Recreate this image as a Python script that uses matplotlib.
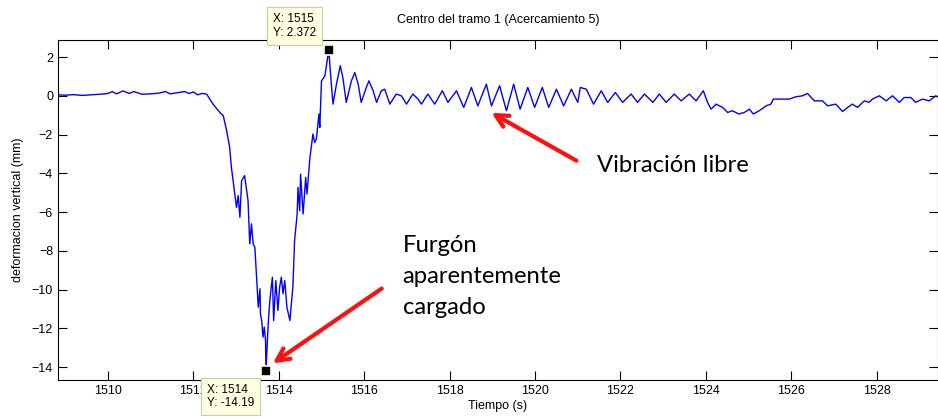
import matplotlib
matplotlib.use("Agg")
import matplotlib.pyplot as plt

# Datos (tiempo en s, deformacion en mm)
t_plano = [1508.83, 1509.0, 1509.2, 1509.4, 1509.6, 1509.8, 1510.0, 1510.1, 1510.2,
           1510.35, 1510.5, 1510.6, 1510.8, 1511.0, 1511.2, 1511.35, 1511.45, 1511.6,
           1511.8, 1511.9, 1512.0, 1512.1, 1512.2]
d_plano = [0.05, 0.03, 0.06, 0.02, 0.05, 0.08, 0.12, 0.22, 0.10,
           0.25, 0.12, 0.22, 0.08, 0.10, 0.14, 0.22, 0.10, 0.15,
           0.22, 0.12, 0.20, 0.05, 0.12]

t_paso = [1512.31, 1512.46, 1512.62, 1512.70, 1512.78, 1512.85, 1512.89, 1512.97,
          1513.01, 1513.05, 1513.09, 1513.13, 1513.20, 1513.28, 1513.32, 1513.36,
          1513.40, 1513.44, 1513.48, 1513.52, 1513.56, 1513.57, 1513.60, 1513.63,
          1513.66, 1513.69, 1513.70, 1513.75, 1513.79, 1513.85, 1513.88, 1513.93,
          1513.98, 1514.02, 1514.06, 1514.10, 1514.14, 1514.19, 1514.26, 1514.33,
          1514.37, 1514.43, 1514.45, 1514.49, 1514.51, 1514.57, 1514.63, 1514.66,
          1514.73, 1514.80, 1514.84, 1514.88, 1514.94, 1514.96, 1515.00, 1515.08]
d_paso = [0.09, -0.43, -0.86, -1.03, -1.80, -2.66, -3.69, -5.07,
          -5.76, -5.15, -6.27, -4.38, -4.12, -5.41, -7.64, -6.61,
          -7.64, -7.82, -9.36, -10.91, -9.96, -11.25, -11.60, -12.46,
          -11.94, -12.63, -14.19, -11.86, -10.57, -9.36, -11.60, -9.54,
          -11.08, -9.88, -9.36, -10.22, -9.54, -10.91, -11.60, -9.88,
          -7.47, -6.10, -4.73, -5.93, -4.04, -6.10, -4.21, -5.07,
          -3.18, -1.97, -2.41, -2.23, -0.94, -1.63, 0.77, 1.03]

t_vib = [1515.17, 1515.23, 1515.27, 1515.35, 1515.44, 1515.50, 1515.58, 1515.70,
         1515.78, 1515.86, 1515.93, 1516.05, 1516.11, 1516.21, 1516.29, 1516.40,
         1516.48, 1516.60, 1516.75, 1516.87, 1516.99, 1517.14, 1517.26, 1517.34,
         1517.49, 1517.65, 1517.83, 1517.96, 1518.16, 1518.33, 1518.51, 1518.66,
         1518.86, 1518.98, 1519.17, 1519.33, 1519.50, 1519.65, 1519.83, 1519.99,
         1520.17, 1520.32, 1520.50, 1520.67, 1520.85, 1521.00, 1521.06, 1521.20,
         1521.37, 1521.55, 1521.70, 1521.88, 1522.05, 1522.25, 1522.40, 1522.56,
         1522.76, 1522.91, 1523.07, 1523.26, 1523.42, 1523.61, 1523.77, 1523.94]
d_vib = [2.372, 0.60, -0.43, 0.60, 1.55, 0.94, -0.34, 0.77,
         1.20, 0.60, -0.34, 0.43, 0.77, 0.26, -0.34, 0.26,
         0.34, -0.43, 0.09, 0.00, -0.43, 0.09, -0.17, -0.43,
         0.09, -0.43, 0.26, -0.34, 0.26, -0.60, 0.43, -0.52,
         0.60, -0.52, 0.52, -0.77, 0.60, -0.69, 0.43, -0.60,
         0.43, -0.60, 0.34, -0.52, 0.34, -0.34, 0.43, 0.34,
         -0.43, 0.26, -0.34, 0.17, -0.34, 0.09, -0.34, 0.09,
         -0.34, 0.09, -0.34, 0.09, -0.26, 0.09, -0.26, 0.26]

t_final = [1524.04, 1524.12, 1524.24, 1524.39, 1524.51, 1524.62, 1524.77, 1524.90,
           1525.02, 1525.11, 1525.25, 1525.41, 1525.52, 1525.58, 1525.76, 1525.95,
           1526.11, 1526.26, 1526.38, 1526.54, 1526.73, 1526.85, 1527.04, 1527.20,
           1527.32, 1527.43, 1527.55, 1527.71, 1527.82, 1527.90, 1528.06, 1528.22,
           1528.37, 1528.53, 1528.64, 1528.80, 1528.91, 1529.07, 1529.23, 1529.38,
           1529.43]
d_final = [-0.34, -0.69, -0.43, -0.60, -0.86, -0.77, -0.94, -0.86,
           -0.69, -0.94, -0.77, -0.52, -0.43, -0.17, -0.17, -0.17,
           -0.05, 0.00, 0.12, -0.26, -0.26, -0.52, -0.43, -0.81,
           -0.60, -0.43, -0.60, -0.26, -0.34, -0.17, 0.00, -0.26,
           0.00, -0.34, -0.09, -0.09, -0.34, -0.17, -0.26, 0.00,
           -0.05]

tiempo = t_plano + t_paso + t_vib + t_final
deform = d_plano + d_paso + d_vib + d_final

# puntos marcados (data tips)
tip_t = [1515.17, 1513.70]
tip_d = [2.372, -14.19]
tip_txt = ["X: 1515\nY: 2.372", "X: 1514\nY: -14.19"]

plt.rcParams["font.family"] = ["Liberation Sans", "DejaVu Sans"]

fig = plt.figure(figsize=(9.38, 4.19), dpi=100)
ax = fig.add_axes([0.0618, 0.0931, 0.938, 0.8114])

ax.plot(tiempo, deform, color="#0000FF", linewidth=1.0)
ax.plot(tip_t, tip_d, "s", color="black", markersize=7,
        markeredgecolor="#FFFFE1", markeredgewidth=1.2, zorder=5)

ax.set_xlim(1508.83, 1529.43)
ax.set_ylim(-14.67, 2.88)
ax.set_xticks(range(1510, 1530, 2))
ax.set_yticks(range(-14, 3, 2))
ax.tick_params(direction="in", length=6.3, top=True, right=True, labelsize=9)
for s in ax.spines.values():
    s.set_linewidth(0.8)

ax.set_title("Centro del tramo 1 (Acercamiento 5)", fontsize=9, pad=12)
ax.set_xlabel("Tiempo (s)", fontsize=9, labelpad=2)
ax.set_ylabel("deformacion vertical (mm)", fontsize=9, labelpad=6)

caja = dict(boxstyle="square,pad=0.5", facecolor="#FFFFE1", edgecolor="#D0C8A8", linewidth=0.8)
ax.annotate(tip_txt[0], xy=(tip_t[0], tip_d[0]), xytext=(-13, 11),
            textcoords="offset pixels", ha="right", va="bottom", fontsize=8.5,
            multialignment="left", bbox=caja, annotation_clip=False, zorder=6)
ax.annotate(tip_txt[1], xy=(tip_t[1], tip_d[1]), xytext=(-12, -13),
            textcoords="offset pixels", ha="right", va="top", fontsize=8.5,
            multialignment="left", bbox=caja, annotation_clip=False, zorder=6)

flecha = dict(arrowstyle="->,head_length=0.9,head_width=0.45", color="#FF1010", linewidth=3,
              shrinkA=0, shrinkB=0)
ax.annotate("", xy=(1518.98, -0.88), xytext=(1520.97, -3.35), arrowprops=flecha)
ax.annotate("", xy=(1513.86, -13.81), xytext=(1516.41, -9.95), arrowprops=flecha)

ax.text(1521.44, -3.61, "Vibración libre", fontsize=17.2, family="Lato",
        ha="left", va="center")
ax.text(1516.90, -9.33, "Furgón\naparentemente\ncargado", fontsize=17.2, family="Lato",
        ha="left", va="center", linespacing=1.6)

fig.savefig("out.png", dpi=100)
